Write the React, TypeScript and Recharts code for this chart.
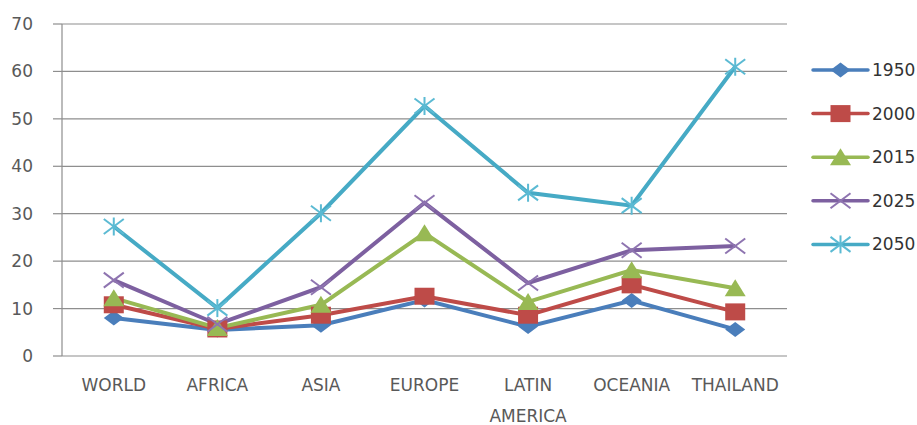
import React from 'react';
import { LineChart, Line, XAxis, YAxis, CartesianGrid, Legend } from 'recharts';

const categories = ['WORLD', 'AFRICA', 'ASIA', 'EUROPE', 'LATIN AMERICA', 'OCEANIA', 'THAILAND'];
const v1950 = [8.0, 5.5, 6.5, 11.8, 6.2, 11.7, 5.6];
const v2000 = [10.8, 5.7, 8.6, 12.6, 8.6, 15.0, 9.3];
const v2015 = [12.2, 5.9, 10.8, 25.9, 11.4, 18.1, 14.3];
const v2025 = [16.0, 6.7, 14.5, 32.3, 15.4, 22.3, 23.2];
const v2050 = [27.3, 10.1, 30.1, 52.7, 34.4, 31.7, 61.0];
const yTicks = [0, 10, 20, 30, 40, 50, 60, 70];
const edgeTicks = [0, 1, 2, 3, 4, 5, 6, 7];

type Kind = 'diamond' | 'square' | 'triangle' | 'x' | 'star';

const seriesDefs: { key: string; name: string; color: string; mark: string; kind: Kind }[] = [
  { key: 's1950', name: '1950', color: '#4A7EBB', mark: '#4A7EBB', kind: 'diamond' },
  { key: 's2000', name: '2000', color: '#BE4B48', mark: '#BE4B48', kind: 'square' },
  { key: 's2015', name: '2015', color: '#98B954', mark: '#98B954', kind: 'triangle' },
  { key: 's2025', name: '2025', color: '#7D60A0', mark: '#8E74B0', kind: 'x' },
  { key: 's2050', name: '2050', color: '#46AAC5', mark: '#5BBAD3', kind: 'star' },
];

const data = categories.map((name, i) => ({
  name,
  pos: i + 0.5,
  s1950: v1950[i],
  s2000: v2000[i],
  s2015: v2015[i],
  s2025: v2025[i],
  s2050: v2050[i],
}));

const FONT = 'DejaVu Sans';
const TEXT = '#595959';
const GRID = '#8E8E8E';

function Marker({ kind, cx, cy, color }: { kind: Kind; cx: number; cy: number; color: string }) {
  if (cx == null || cy == null || isNaN(cx) || isNaN(cy)) return <g />;
  switch (kind) {
    case 'diamond':
      return (
        <polygon
          points={`${cx - 10},${cy} ${cx},${cy - 7.5} ${cx + 10},${cy} ${cx},${cy + 7.5}`}
          fill={color}
        />
      );
    case 'square':
      return <rect x={cx - 10} y={cy - 8.5} width={20} height={17} fill={color} />;
    case 'triangle':
      return (
        <polygon
          points={`${cx},${cy - 9} ${cx + 10.5},${cy + 8} ${cx - 10.5},${cy + 8}`}
          fill={color}
        />
      );
    case 'x':
      return (
        <g stroke={color} strokeWidth={2}>
          <line x1={cx - 10} y1={cy - 7.5} x2={cx + 10} y2={cy + 7.5} />
          <line x1={cx - 10} y1={cy + 7.5} x2={cx + 10} y2={cy - 7.5} />
        </g>
      );
    case 'star':
    default:
      return (
        <g stroke={color} strokeWidth={2}>
          <line x1={cx - 10} y1={cy - 7.5} x2={cx + 10} y2={cy + 7.5} />
          <line x1={cx - 10} y1={cy + 7.5} x2={cx + 10} y2={cy - 7.5} />
          <line x1={cx} y1={cy - 9} x2={cx} y2={cy + 9} />
        </g>
      );
  }
}

const CategoryTick = (props: any) => {
  const { x, y, payload } = props;
  const label = String(payload.value);
  const lines = label.length > 10 ? label.split(' ') : [label];
  return (
    <text x={x} y={y} textAnchor="middle" fill={TEXT} fontSize={17} fontFamily={FONT}>
      {lines.map((l, i) => (
        <tspan key={i} x={x} dy={i === 0 ? 35 : 31}>
          {l}
        </tspan>
      ))}
    </text>
  );
};

const LegendContent = () => (
  <svg width={112} height={220} style={{ display: 'block' }}>
    {seriesDefs.map((s, i) => {
      const cy = 22 + i * 43.6;
      return (
        <g key={s.key}>
          <line x1={8} y1={cy} x2={63} y2={cy} stroke={s.color} strokeWidth={3.5} strokeLinecap="round" />
          <Marker kind={s.kind} cx={35.5} cy={cy} color={s.mark} />
          <text x={67} y={cy + 6} fill="#333" fontSize={17} fontFamily={FONT}>
            {s.name}
          </text>
        </g>
      );
    })}
  </svg>
);

export default function App() {
  return (
    <div style={{ position: 'absolute', left: 0, top: 0, width: 917, height: 425, background: '#fff' }}>
      <LineChart
        width={917}
        height={425}
        data={data}
        margin={{ top: 24, right: 18, bottom: 0, left: 0 }}
      >
        <CartesianGrid horizontal vertical={false} stroke={GRID} strokeWidth={1.2} />
        <XAxis
          xAxisId="edges"
          type="number"
          dataKey="pos"
          domain={[0, 7]}
          ticks={edgeTicks}
          tick={false}
          tickSize={7}
          tickLine={{ stroke: GRID, strokeWidth: 1.2 }}
          axisLine={{ stroke: GRID, strokeWidth: 1.2 }}
          height={0}
          allowDataOverflow
        />
        <XAxis
          dataKey="name"
          type="category"
          scale="band"
          interval={0}
          tickLine={false}
          axisLine={false}
          tickSize={0}
          tickMargin={0}
          height={69}
          tick={<CategoryTick />}
        />
        <YAxis
          domain={[0, 70]}
          ticks={yTicks}
          width={62}
          tickSize={9}
          tickMargin={20}
          tickLine={{ stroke: GRID, strokeWidth: 1.2 }}
          axisLine={{ stroke: GRID, strokeWidth: 1.2 }}
          tick={{ fill: TEXT, fontSize: 17, fontFamily: FONT }}
          allowDataOverflow
        />
        <Legend
          layout="vertical"
          align="right"
          verticalAlign="top"
          width={112}
          wrapperStyle={{ left: 805, top: 48, right: 'auto', width: 112 }}
          content={<LegendContent />}
        />
        {seriesDefs.map((s) => (
          <Line
            key={s.key}
            type="linear"
            dataKey={s.key}
            name={s.name}
            stroke={s.color}
            strokeWidth={4}
            isAnimationActive={false}
            dot={(p: any) => <Marker key={`${s.key}-${p.index}`} kind={s.kind} cx={p.cx} cy={p.cy} color={s.mark} />}
            activeDot={false}
          />
        ))}
      </LineChart>
    </div>
  );
}
